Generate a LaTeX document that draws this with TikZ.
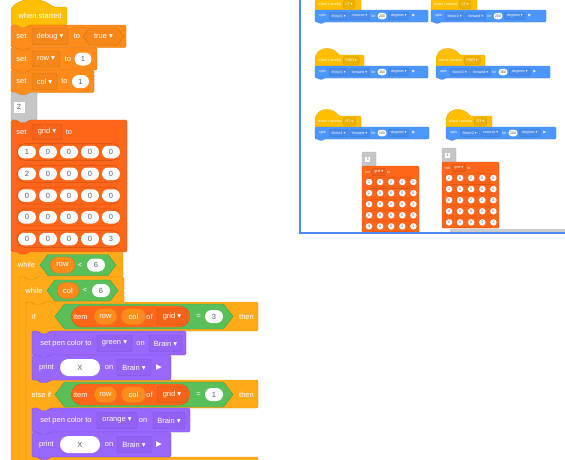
\documentclass[tikz,border=0pt]{standalone}
\usepackage{fontspec}
\setmainfont{Liberation Sans}
\newfontfamily\symf{DejaVu Sans}
\usetikzlibrary{positioning,shapes.misc,shapes.symbols}

\definecolor{evtc}{HTML}{FFBF00}
\definecolor{varc}{HTML}{FF8C1A}
\definecolor{lstc}{HTML}{FF661A}
\definecolor{ctlc}{HTML}{FFAB19}
\definecolor{opc}{HTML}{59C059}
\definecolor{lookc}{HTML}{9966FF}
\definecolor{gryc}{HTML}{C6C6C6}
\definecolor{motc}{HTML}{4C97FF}
\definecolor{txtc}{HTML}{575E75}
\definecolor{framec}{HTML}{4C8BF5}

\newcommand\scr{\fontsize{7.5}{9}\selectfont}
\newcommand\mini{\fontsize{3.6}{4.3}\selectfont}
\newcommand\dd{{\symf ▾}}
\newcommand\play{{\symf ▶}}

% stack block with notch: x, y, width, height, style
\newcommand\sblock[5]{%
  \filldraw[#5] (#1,#2) -- ++(6,0) -- ++(2,2.5) -- ++(8,0) -- ++(2,-2.5) -- ({#1+#3},#2)
    -- ({#1+#3},{#2+#4}) -- ({#1+18},{#2+#4}) -- ++(-2,2.5) -- ++(-8,0) -- ++(-2,-2.5)
    -- (#1,{#2+#4}) -- cycle;}

% small hat + spin block: x, y, name, msg, motor, dir, deg, width, hat width
\newcommand\minipair[9]{%
  \filldraw[blk=evtc, line width=0.2pt, rounded corners=1pt] (#1,{#2+1}) -- (#1,{#2-8})
    .. controls ({#1+3},{#2-20}) and ({#1+18},{#2-20}) .. ({#1+24},{#2-11})
    -- ({#1+#9},{#2-11}) -- ({#1+#9},{#2+1}) -- cycle;
  \node[mlbl, anchor=west] (#3h) at ({#1+3},{#2-5.5}) {when I receive};
  \node[mfld=evtc, right=1.5pt of #3h] (#3msg) {#4 \dd};
  \filldraw[blk=motc, line width=0.2pt, rounded corners=1pt] (#1,#2) -- ({#1+#8},#2)
    -- ({#1+#8},{#2+12}) -- ({#1+9},{#2+12}) -- ++(-1,1.3) -- ++(-4,0) -- ++(-1,-1.3)
    -- (#1,{#2+12}) -- cycle;
  \node[mlbl, anchor=west] (#3s) at ({#1+4},{#2+6}) {spin};
  \node[mfld=motc, right=3pt of #3s] (#3m) {#5 \dd};
  \node[mfld=motc, right=1.5pt of #3m] (#3d) {#6 \dd};
  \node[mlbl, right=1.5pt of #3d] (#3f) {for};
  \node[mnum, right=1.5pt of #3f] (#3n) {#7};
  \node[mfld=motc, right=1.5pt of #3n] (#3u) {degrees \dd};
  \node[mlbl, right=3pt of #3u] (#3p) {\play};
}

% small grid block: x, y, name, tab number, height, rows
\newcommand\minigrid[6]{%
  \filldraw[blk=gryc, line width=0.2pt, rounded corners=1pt] (#1,{#2-14}) rectangle ({#1+14},{#2+1});
  \node[fill=white, inner sep=0pt, minimum size=5pt, font=\mini, text=txtc] (#3t) at ({#1+5.5},{#2-7}) {#4};
  \filldraw[blk=lstc, line width=0.2pt, rounded corners=1pt] (#1,#2) rectangle ({#1+57},{#2+#5});
  \node[mlbl, anchor=west] (#3a) at ({#1+3},{#2+6}) {set};
  \node[mfld=lstc, right=1.5pt of #3a] (#3b) {grid \dd};
  \node[mlbl, right=1.5pt of #3b] (#3c) {to};
  \foreach \vals [count=\ri] in {#6} {
    \node[mrow] (#3r\ri) at ({#1+28.5},{#2+16+11.1*(\ri-1)}) {};
    \foreach \v [count=\ci] in \vals
      \node[mnum, minimum width=8pt] (#3g\ri\ci) at ({#1+7+11.1*(\ci-1)},{#2+16+11.1*(\ri-1)}) {\v};
  }
}

\begin{document}
\begin{tikzpicture}[x=1pt, y=-1pt,
  blk/.style={fill=#1, draw=#1!85!black, line width=0.4pt, rounded corners=1.5pt},
  lbl/.style={text=white, font=\scr, inner sep=0pt},
  fld/.style={fill=#1!96!black, draw=#1!80!black, line width=0.4pt, rounded corners=2pt,
    text=white, font=\scr, minimum height=16pt, inner sep=0pt},
  num/.style={rounded rectangle, fill=white, text=txtc, font=\scr, minimum height=13pt, inner sep=0pt},
  rep/.style={rounded rectangle, fill=varc, draw=varc!85!black, line width=0.4pt, text=white,
    font=\scr, minimum height=16pt, inner sep=0pt},
  hexb/.style={signal, signal to=east and west, signal pointer angle=105, fill=opc,
    draw=opc!80!black, line width=0.4pt, minimum height=21pt, inner sep=0pt},
  hexf/.style={hexb, fill=#1!96!black, draw=#1!80!black, minimum height=17pt, text=white, font=\scr},
  itempill/.style={rounded rectangle, fill=lstc, draw=lstc!85!black, line width=0.4pt,
    minimum height=21pt, minimum width=125pt},
  rowpill/.style={rounded rectangle, fill=lstc, draw=lstc!80!black, line width=0.5pt,
    minimum height=17pt, minimum width=109pt},
  mlbl/.style={text=white, font=\mini, inner sep=0pt},
  mfld/.style={fill=#1!93!black, draw=#1!78!black, line width=0.2pt, rounded corners=1pt,
    text=white, font=\mini, minimum height=7.5pt, inner xsep=2.5pt, inner ysep=0pt},
  mnum/.style={rounded rectangle, fill=white, text=txtc, font=\mini, minimum height=6.5pt,
    minimum width=11pt, inner xsep=1pt, inner ysep=0pt},
  mrow/.style={rounded rectangle, draw=lstc!78!black, line width=0.3pt, minimum height=9.5pt,
    minimum width=54pt},
]
\useasboundingbox (0,0) rectangle (565,459);
\clip (0,0) rectangle (565,459);
\fill[white] (0,0) rectangle (565,459);

% === when started ===
\filldraw[blk=evtc] (11,25) -- (11,9) .. controls (19,-3) and (42,-3) .. (53,7) -- (67,7)
  -- (67,25) -- (29,25) -- ++(-2,2.5) -- ++(-8,0) -- ++(-2,-2.5) -- cycle;
\node[lbl] (started) at (40,16) {when started};

% === set variables ===
\sblock{11}{25}{115}{22.5}{blk=varc}
\node[lbl] (setA) at (21.5,36.5) {set};
\node[fld=varc, minimum width=36pt] (debugF) at (50,36.5) {debug \dd};
\node[lbl] (toA) at (77,36.5) {to};
\node[hexf=varc, minimum width=41pt] (trueF) at (103.5,36.5) {true \dd};

\sblock{11}{47.5}{86}{22.5}{blk=varc}
\node[lbl] (setB) at (21.5,59) {set};
\node[fld=varc, minimum width=28pt] (rowF) at (46,59) {row \dd};
\node[lbl] (toB) at (68,59) {to};
\node[num, minimum width=17pt] (rowV) at (83,59) {1};

\sblock{11}{70}{83}{22.5}{blk=varc}
\node[lbl] (setC) at (21.5,81.5) {set};
\node[fld=varc, minimum width=25pt] (colF) at (44.5,81.5) {col \dd};
\node[lbl] (toC) at (64.5,81.5) {to};
\node[num, minimum width=17pt] (colV) at (80.5,81.5) {1};

% === gray tab ===
\sblock{11}{92.5}{26}{27.5}{blk=gryc}
\node[fill=white, minimum size=11pt, inner sep=0pt, font=\scr, text=txtc] (tabA) at (19,107) {2};

% === set grid ===
\sblock{11}{120}{116}{132}{blk=lstc}
\node[lbl] (setD) at (21.5,132) {set};
\node[fld=lstc, minimum width=30pt, minimum height=15pt] (gridF) at (47,132) {grid \dd};
\node[lbl] (toD) at (69,132) {to};
\foreach \vals [count=\ri] in {{1,0,0,0,0},{2,0,0,0,0},{0,0,0,0,0},{0,0,0,0,0},{0,0,0,0,3}} {
  \node[rowpill] (row\ri) at (68.5,{130.25+21.75*\ri}) {};
  \foreach \v [count=\ci] in \vals
    \node[num, minimum width=18pt, minimum height=12.5pt] (g\ri\ci) at ({6+21*\ci},{130.25+21.75*\ri}) {\v};
}

% === while row < 6 ===
\filldraw[blk=ctlc] (11,252) -- ++(6,0) -- ++(2,2.5) -- ++(8,0) -- ++(2,-2.5) -- (123,252)
  -- (123,277) -- (37,277) -- ++(-2,2.5) -- ++(-8,0) -- ++(-2,-2.5) -- (19,277) -- (19,470)
  -- (11,470) -- cycle;
\node[lbl] (whileA) at (26.5,265) {while};
\node[hexb, minimum width=76pt] (condA) at (78,265) {};
\node[rep, minimum width=25pt] (rowA) at (62.5,265) {row};
\node[lbl] (ltA) at (80,265) {<};
\node[num, minimum width=18pt] (sixA) at (96,265) {6};

% === while col < 6 ===
\filldraw[blk=ctlc] (19,277) -- ++(6,0) -- ++(2,2.5) -- ++(8,0) -- ++(2,-2.5) -- (124,277)
  -- (124,302) -- (44,302) -- ++(-2,2.5) -- ++(-8,0) -- ++(-2,-2.5) -- (26,302) -- (26,470)
  -- (19,470) -- cycle;
\node[lbl] (whileB) at (34,290.5) {while};
\node[hexb, minimum width=71pt] (condB) at (82.5,290.5) {};
\node[rep, minimum width=22pt] (colB) at (68,290.5) {col};
\node[lbl] (ltB) at (85,290.5) {<};
\node[num, minimum width=18pt] (sixB) at (101,290.5) {6};

% === if / else if ===
\filldraw[blk=ctlc] (26,302) -- ++(6,0) -- ++(2,2.5) -- ++(8,0) -- ++(2,-2.5) -- (258,302)
  -- (258,331) -- (50,331) -- ++(-2,2.5) -- ++(-8,0) -- ++(-2,-2.5) -- (32,331)
  -- (32,380) -- ++(6,0) -- ++(2,2.5) -- ++(8,0) -- ++(2,-2.5) -- (258,380)
  -- (258,408) -- (50,408) -- ++(-2,2.5) -- ++(-8,0) -- ++(-2,-2.5) -- (32,408)
  -- (32,457) -- ++(6,0) -- ++(2,2.5) -- ++(8,0) -- ++(2,-2.5) -- (258,457)
  -- (258,470) -- (26,470) -- cycle;

\node[lbl] (ifA) at (34,316.5) {if};
\node[hexb, minimum width=178pt, minimum height=25pt] (condC) at (144,316.5) {};
\node[itempill] (itemC) at (130.5,316.5) {};
\node[lbl] (itemTxtC) at (80.5,316.5) {item};
\node[rep, minimum width=23pt] (rowC) at (105.5,316.5) {row};
\node[rep, minimum width=25pt] (colC) at (133.5,316.5) {col};
\node[lbl] (ofC) at (149.5,316.5) {of};
\node[fld=lstc, minimum width=30pt] (gridC) at (172,316.5) {grid \dd};
\node[lbl] (eqC) at (198.5,316.5) {=};
\node[num, minimum width=18pt] (threeC) at (214,316.5) {3};
\node[lbl] (thenC) at (246.5,316.5) {then};

\sblock{32}{331}{154}{24}{blk=lookc}
\node[lbl] (penA) at (66,343.5) {set pen color to};
\node[fld=lookc, minimum width=35pt] (greenF) at (114.5,343.5) {green \dd};
\node[lbl] (onA) at (140.5,343.5) {on};
\node[fld=lookc, minimum width=33pt] (brainA) at (165.5,343.5) {Brain \dd};

\sblock{32}{355}{139}{25}{blk=lookc}
\node[lbl] (printA) at (46.5,367.5) {print};
\node[num, minimum width=40pt, minimum height=17pt] (xA) at (80,367.5) {X};
\node[lbl] (onB) at (109,367.5) {on};
\node[fld=lookc, minimum width=34pt] (brainB) at (134,367.5) {Brain \dd};
\node[lbl] (playA) at (159,367.5) {\play};

\node[lbl] (elseIf) at (41.5,394.5) {else if};
\node[hexb, minimum width=178pt, minimum height=25pt] (condD) at (144,394.5) {};
\node[itempill] (itemD) at (130.5,394.5) {};
\node[lbl] (itemTxtD) at (80.5,394.5) {item};
\node[rep, minimum width=23pt] (rowD) at (105.5,394.5) {row};
\node[rep, minimum width=25pt] (colD) at (133.5,394.5) {col};
\node[lbl] (ofD) at (149.5,394.5) {of};
\node[fld=lstc, minimum width=30pt] (gridD) at (172,394.5) {grid \dd};
\node[lbl] (eqD) at (198.5,394.5) {=};
\node[num, minimum width=18pt] (oneD) at (214,394.5) {1};
\node[lbl] (thenD) at (246.5,394.5) {then};

\sblock{32}{408}{158}{24}{blk=lookc}
\node[lbl] (penB) at (66,420.5) {set pen color to};
\node[fld=lookc, minimum width=40pt] (orangeF) at (117,420.5) {orange \dd};
\node[lbl] (onC) at (143,420.5) {on};
\node[fld=lookc, minimum width=32pt] (brainC) at (169,420.5) {Brain \dd};

\sblock{32}{432}{139}{25}{blk=lookc}
\node[lbl] (printB) at (46.5,444.5) {print};
\node[num, minimum width=40pt, minimum height=17pt] (xB) at (80,444.5) {X};
\node[lbl] (onD) at (109,444.5) {on};
\node[fld=lookc, minimum width=34pt] (brainD) at (134,444.5) {Brain \dd};
\node[lbl] (playB) at (159,444.5) {\play};

% === overview panel ===
\minipair{315}{10}{pa}{LT}{Motor1}{reverse}{200}{113}{46}
\minipair{431}{10}{pb}{LT}{Motor2}{forward}{200}{115}{46}
\minipair{315}{66}{pc}{FWD}{Motor1}{forward}{360}{113}{49}
\minipair{436}{66}{pd}{FWD}{Motor2}{forward}{360}{114}{49}
\minipair{315}{127}{pe}{RT}{Motor1}{forward}{200}{114}{46}
\minipair{446}{127}{pf}{RT}{Motor2}{reverse}{200}{110}{46}

\fill[black!20] (450,229) rectangle (570,232.3);
\minigrid{362}{166}{ga}{3}{67}{{1,0,2,0,0},{2,0,0,0,0},{0,0,2,0,2},{0,0,0,0,0},{0,0,0,2,1}}
\minigrid{442}{162}{gb}{4}{66}{{2,0,2,0,0},{2,0,0,0,0},{0,0,2,2,2},{0,0,0,0,0},{0,0,0,2,1}}

\draw[framec, line width=2pt] (299.5,-5) -- (299.5,233.3) -- (570,233.3);

\end{tikzpicture}
\end{document}
